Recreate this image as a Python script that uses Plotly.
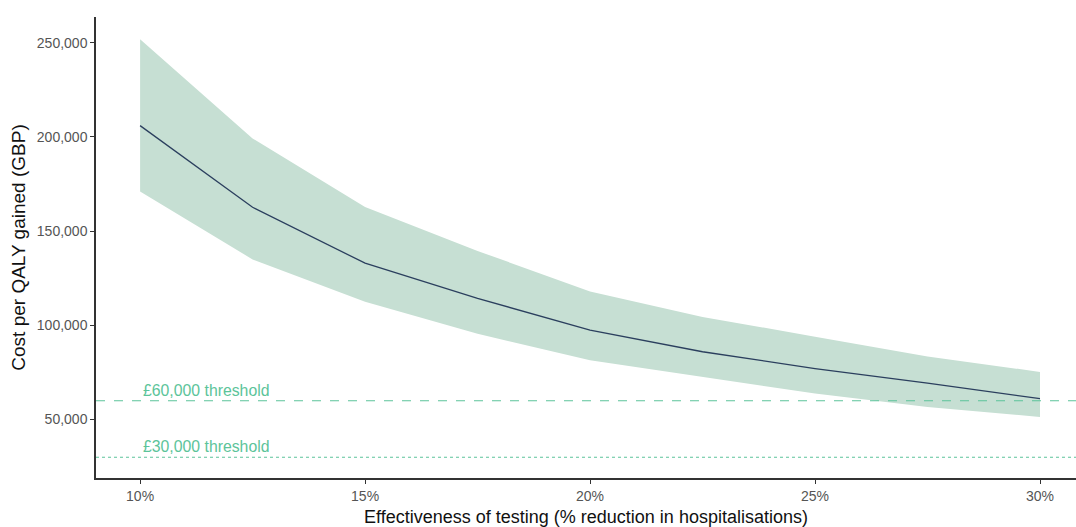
import plotly.graph_objects as go

# Effectiveness of testing (% reduction in hospitalisations)
effectiveness = [10, 12.5, 15, 17.5, 20, 22.5, 25, 27.5, 30]
# Cost per QALY gained (GBP): central estimate and uncertainty band
icer_mean = [206000, 162700, 133000, 114300, 97500, 86000, 77100, 69400, 61100]
icer_upper = [251800, 199200, 162800, 139500, 118000, 104500, 94000, 83500, 75300]
icer_lower = [171000, 135000, 112500, 95500, 81500, 72600, 63800, 56700, 51400]

thresholds = [60000, 30000]
threshold_labels = ["£60,000 threshold", "£30,000 threshold"]
threshold_dash = ["dash", "dot"]

y_ticks = [50000, 100000, 150000, 200000, 250000]
x_ticks = [10, 15, 20, 25, 30]

FONT = "Liberation Sans, Arial, sans-serif"
GREEN = "#5cc49a"

fig = go.Figure()

# Uncertainty ribbon
fig.add_trace(go.Scatter(
    x=effectiveness, y=icer_lower, mode="lines",
    line=dict(width=0), hoverinfo="skip", showlegend=False,
))
fig.add_trace(go.Scatter(
    x=effectiveness, y=icer_upper, mode="lines",
    line=dict(width=0), fill="tonexty", fillcolor="#c6dfd3",
    hoverinfo="skip", showlegend=False,
))
# Central estimate
fig.add_trace(go.Scatter(
    x=effectiveness, y=icer_mean, mode="lines",
    line=dict(color="#2b3f5e", width=1.3), showlegend=False,
))

# Willingness-to-pay thresholds
for value, label, dash in zip(thresholds, threshold_labels, threshold_dash):
    fig.add_shape(
        type="line", xref="paper", x0=0, x1=1, yref="y", y0=value, y1=value,
        line=dict(color=GREEN, width=1.2, dash=dash),
    )
    fig.add_annotation(
        x=effectiveness[0], y=value, xref="x", yref="y",
        text=label, showarrow=False, xanchor="left", yanchor="bottom",
        xshift=1, yshift=0,
        font=dict(family=FONT, size=15.8, color=GREEN),
    )

fig.update_layout(
    width=1076, height=527,
    margin=dict(l=96, r=0, t=17, b=49),
    paper_bgcolor="white", plot_bgcolor="white",
    font=dict(family=FONT),
)
fig.update_xaxes(
    range=[9.02, 30.8],
    tickvals=x_ticks, ticktext=[f"{v}%" for v in x_ticks],
    showgrid=False, zeroline=False,
    showline=True, linecolor="#333333", linewidth=1.5,
    ticks="outside", ticklen=4, tickcolor="#333333", tickwidth=1,
    tickfont=dict(family=FONT, size=14, color="#555555"),
    title=dict(text="Effectiveness of testing (% reduction in hospitalisations)",
               font=dict(family=FONT, size=18, color="#111111"), standoff=8),
)
fig.update_yaxes(
    range=[19000, 263650],
    tickvals=y_ticks, ticktext=[f"{v:,}" for v in y_ticks],
    showgrid=False, zeroline=False,
    showline=True, linecolor="#333333", linewidth=1.5,
    ticks="outside", ticklen=4, tickcolor="#333333", tickwidth=1,
    tickfont=dict(family=FONT, size=14, color="#555555"),
    title=dict(text="Cost per QALY gained (GBP)",
               font=dict(family=FONT, size=19, color="#111111"), standoff=6),
)

fig.write_html("out.html")
